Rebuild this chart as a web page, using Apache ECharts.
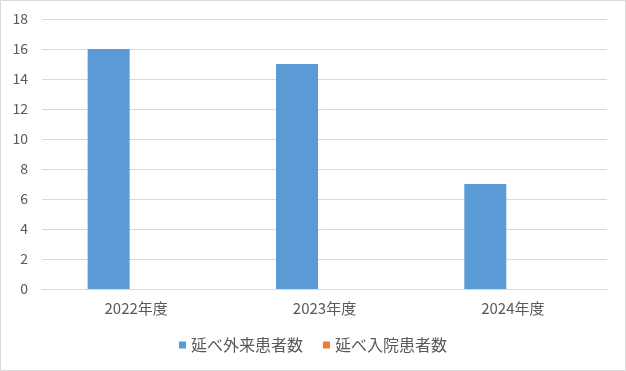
<!DOCTYPE html>
<html><head><meta charset="utf-8">
<script src="https://cdn.jsdelivr.net/npm/echarts@6/dist/echarts.min.js"></script>
<style>html,body{margin:0;padding:0;background:#fff}#c{width:626px;height:371px}</style>
</head><body><div id="c"></div>
<script>
const categories = ['2022年度', '2023年度', '2024年度'];
const outpatients = [16, 15, 7];
const inpatients = [0, 0, 0];
const seriesNames = ['延べ外来患者数', '延べ入院患者数'];
const yTicks = {min: 0, max: 18, interval: 2};

const font = '"Noto Sans CJK JP", "Noto Sans", sans-serif';
const chart = echarts.init(document.getElementById('c'), null, {renderer: 'canvas'});
chart.setOption({
  animation: false,
  textStyle: {fontFamily: font},
  graphic: [{type: 'rect', shape: {x: 0.5, y: 0.5, width: 625, height: 370}, style: {fill: 'none', stroke: '#d9d9d9', lineWidth: 1}, silent: true}],
  grid: {left: 42, right: 19, top: 19, bottom: 82, containLabel: false},
  legend: {
    bottom: 13, left: 'center', itemWidth: 7, itemHeight: 7, itemGap: 20, icon: 'rect',
    textStyle: {color: '#595959', fontSize: 16, fontFamily: font},
    data: seriesNames
  },
  xAxis: {
    type: 'category', data: categories,
    axisLine: {lineStyle: {color: '#d9d9d9'}}, axisTick: {show: false},
    axisLabel: {color: '#595959', fontSize: 15, margin: 12, fontFamily: font}
  },
  yAxis: {
    type: 'value', min: yTicks.min, max: yTicks.max, interval: yTicks.interval,
    axisLine: {show: false}, axisTick: {show: false},
    splitLine: {lineStyle: {color: '#d9d9d9'}},
    axisLabel: {color: '#595959', fontSize: 14, margin: 14, fontFamily: font}
  },
  series: [
    {name: seriesNames[0], type: 'bar', data: outpatients, barWidth: 42, barGap: '31%', itemStyle: {color: '#5B9BD5'}},
    {name: seriesNames[1], type: 'bar', data: inpatients, barWidth: 42, itemStyle: {color: '#ED7D31'}}
  ]
});
</script></body></html>
